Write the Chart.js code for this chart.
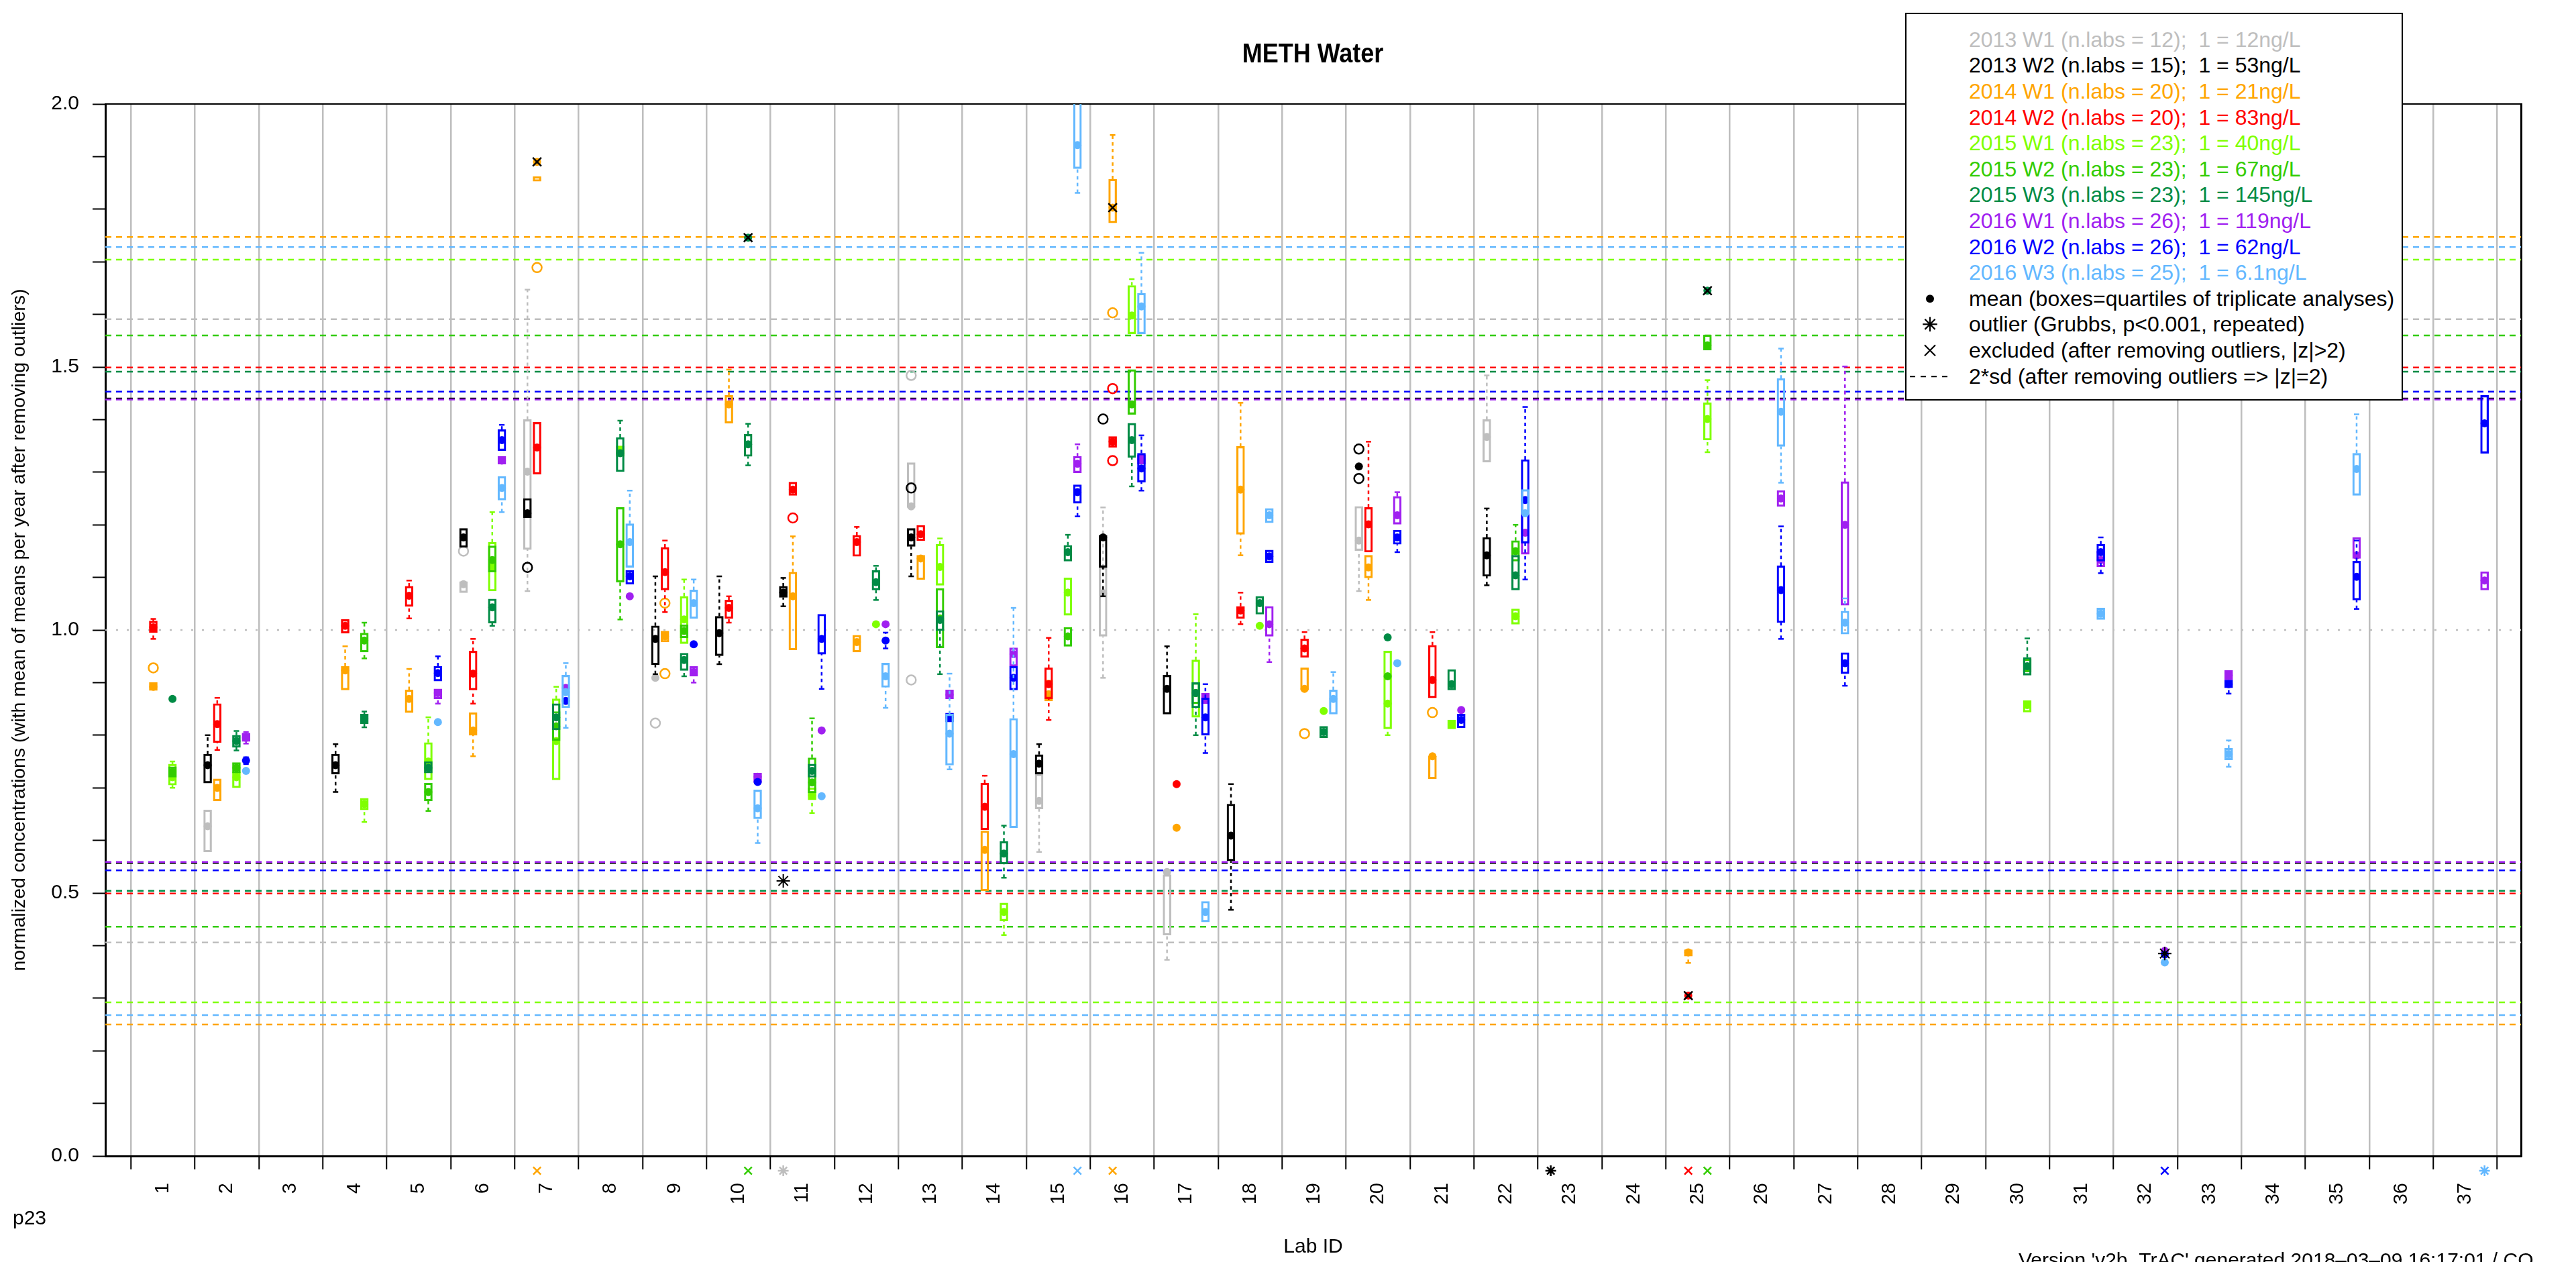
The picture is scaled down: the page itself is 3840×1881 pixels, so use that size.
<!DOCTYPE html>
<html>
<head>
<meta charset="utf-8">
<title>METH Water</title>
<script src="https://cdn.jsdelivr.net/npm/chart.js@4.4.1/dist/chart.umd.min.js"></script>
<style>
  html, body { margin: 0; padding: 0; background: #fff; }
  #wrap {
    position: relative; width: 3840px; height: 1881px; overflow: hidden;
    font-family: "Liberation Sans", Arial, Helvetica, sans-serif; color: #000;
  }
  #c { position: absolute; left: 0; top: 0; }
  #title {
    position: absolute; left: 1957px; top: 59px; font-size: 40px; line-height: 40px;
    font-weight: bold; white-space: nowrap; transform: translateX(-50%) scaleX(0.9);
  }
  #page { position: absolute; left: 19px; top: 1800px; font-size: 30px; line-height: 30px; }
  #version { position: absolute; left: 3009px; top: 1863px; font-size: 30px; line-height: 30px; white-space: nowrap; }
  #legend {
    position: absolute; left: 2840px; top: 19px; width: 742px; height: 578px;
    box-sizing: border-box; border: 2px solid #000; background: #fff;
  }
  #legend .row { position: absolute; left: 0; height: 38.6px; width: 100%; }
  #legend .txt {
    position: absolute; left: 93px; top: 0; font-size: 32px; line-height: 38.6px; white-space: pre;
  }
  #legend svg { position: absolute; top: 0; }
</style>
</head>
<body>
<div id="wrap">
  <canvas id="c" width="3840" height="1881"></canvas>
  <div id="title">METH Water</div>
  <div id="page">p23</div>
  <div id="version">Version 'v2b_TrAC' generated 2018–03–09 16:17:01 / CO</div>
  <div id="legend"></div>
</div>
<script>
// ---------------------------
// Data
// ---------------------------
const labIds = [1,2,3,4,5,6,7,8,9,10,11,12,13,14,15,16,17,18,19,20,21,22,23,24,25,26,27,28,29,30,31,32,33,34,35,36,37];

const seriesLabels = ['2013 W1','2013 W2','2014 W1','2014 W2','2015 W1','2015 W2','2015 W3','2016 W1','2016 W2','2016 W3'];
const seriesNLabs  = [12, 15, 20, 20, 23, 23, 23, 26, 26, 25];
const seriesUnits  = ['12ng/L','53ng/L','21ng/L','83ng/L','40ng/L','67ng/L','145ng/L','119ng/L','62ng/L','6.1ng/L'];

// 2*sd limits per series (after removing outliers)
const sdUpper = [1.591, 1.440, 1.747, 1.499, 1.704, 1.560, 1.491, 1.438, 1.453, 1.728];
const sdLower = [0.406, 0.557, 0.250, 0.499, 0.292, 0.436, 0.504, 0.559, 0.543, 0.268];

// rows: [lab, mean, q1, q3, whiskerLow, whiskerHigh]
const s2013w1 = [
  [2, 0.627, 0.578, 0.658],
  [6, 1.087, 1.071, 1.092],
  [7, 1.301, 1.153, 1.400, 1.074, 1.647],
  [9, 0.909],
  [13, 1.235, 1.233, 1.318],
  [15, 0.675, 0.660, 0.726, 0.578],
  [16, 1.070, 0.988, 1.119, 0.909, 1.233],
  [17, 0.540, 0.420, 0.535, 0.373],
  [20, 1.170, 1.151, 1.235, 1.074],
  [22, 1.367, 1.319, 1.400, null, 1.484],
];
const s2013w2 = [
  [2, 0.743, 0.709, 0.764, null, 0.800],
  [4, 0.743, 0.726, 0.764, 0.692, 0.783],
  [6, 1.176, 1.157, 1.193],
  [7, 1.222, 1.213, 1.250],
  [9, 0.983, 0.934, 1.008, 0.916, 1.102],
  [10, 0.994, 0.951, 1.026, 0.935, 1.102],
  [11, 1.071, 1.062, 1.083, 1.045, 1.099],
  [13, 1.176, 1.159, 1.193, 1.102],
  [15, 0.746, 0.726, 0.763, null, 0.783],
  [16, 1.176, 1.119, 1.180, 1.064],
  [17, 0.888, 0.840, 0.914, null, 0.969],
  [18, 0.609, 0.561, 0.669, 0.468, 0.707],
  [20, 1.311],
  [22, 1.142, 1.102, 1.176, 1.085, 1.231],
];
const s2014w1 = [
  [1, 0.892, 0.885, 0.900],
  [2, 0.700, 0.675, 0.717],
  [4, 0.923, 0.886, 0.931, null, 0.969],
  [5, 0.869, 0.843, 0.886, null, 0.926],
  [6, 0.809, 0.800, 0.843, 0.760],
  [7, null, 1.853, 1.862],
  [9, 0.988, 0.977, 0.998],
  [10, 1.429, 1.393, 1.446, null, 1.495],
  [11, 1.064, 0.962, 1.110, null, 1.178],
  [12, 0.977, 0.958, 0.990],
  [13, 1.136, 1.096, 1.142],
  [14, 0.582, 0.504, 0.618],
  [15, 0.878, 0.865, 0.905],
  [16, null, 1.774, 1.857, null, 1.941],
  [17, 0.624],
  [18, 1.267, 1.182, 1.349, 1.142, 1.432],
  [19, 0.888, 0.886, 0.928],
  [20, 1.119, 1.099, 1.142, 1.057],
  [21, 0.760, 0.717, 0.760],
  [25, 0.387, 0.380, 0.392, 0.367],
];
const s2014w2 = [
  [1, 1.005, 0.995, 1.017, 0.983, 1.021],
  [2, 0.821, 0.786, 0.860, 0.772, 0.871],
  [4, 1.008, 0.994, 1.020],
  [5, 1.065, 1.045, 1.083, 1.022, 1.094],
  [6, 0.917, 0.886, 0.960, 0.860, 0.983],
  [7, 1.347, 1.296, 1.395],
  [9, 1.110, 1.076, 1.157, 1.034, 1.170],
  [10, 1.042, 1.022, 1.057, 1.014, 1.064],
  [11, 1.267, 1.256, 1.281],
  [12, 1.167, 1.140, 1.180, null, 1.196],
  [13, 1.182, 1.170, 1.199],
  [14, 0.664, 0.620, 0.709, null, 0.723],
  [15, 0.897, 0.869, 0.928, 0.829, 0.985],
  [16, 1.358, 1.347, 1.368],
  [17, 0.707],
  [18, 1.037, 1.022, 1.045, 1.011, 1.071],
  [19, 0.965, 0.948, 0.983, null, 0.996],
  [20, 1.201, 1.148, 1.233, null, 1.358],
  [21, 0.905, 0.871, 0.971, null, 0.996],
];
const s2015w1 = [
  [1, 0.720, 0.705, 0.745, 0.700, 0.750],
  [2, 0.720, 0.700, 0.730],
  [4, 0.669, 0.658, 0.680, 0.635],
  [5, 0.750, 0.715, 0.786, null, 0.834],
  [6, 1.120, 1.074, 1.167, null, 1.224],
  [7, 0.789, 0.715, 0.869, null, 0.892],
  [8, 1.340, 1.330, 1.350],
  [9, 1.020, 0.974, 1.064, null, 1.096],
  [11, 0.686, 0.677, 0.700, 0.652],
  [12, 1.011],
  [13, 1.120, 1.085, 1.163, null, 1.174],
  [14, 0.464, 0.447, 0.481, 0.420],
  [15, 1.071, 1.028, 1.099],
  [16, 1.598, 1.563, 1.655, null, 1.667],
  [17, 0.880, 0.834, 0.943, null, 1.030],
  [18, 1.008],
  [19, 0.846],
  [20, 0.860, 0.812, 0.960, 0.800],
  [21, 0.820, 0.812, 0.829],
  [22, 1.026, 1.011, 1.040],
  [25, 1.401, 1.361, 1.432, 1.338, 1.475],
  [30, 0.857, 0.844, 0.866],
];
const s2015w2 = [
  [1, 0.730, 0.720, 0.740],
  [2, 0.738, 0.728, 0.748],
  [4, 0.980, 0.958, 0.994, 0.946, 1.014],
  [5, 0.692, 0.675, 0.709, 0.656],
  [6, 1.133, 1.110, 1.160],
  [7, 0.817, 0.790, 0.845],
  [8, 1.163, 1.091, 1.233, 1.020],
  [9, 0.998, 0.985, 1.010],
  [11, 0.710, 0.690, 0.757, null, 0.832],
  [13, 1.022, 0.966, 1.079],
  [15, 0.988, 0.969, 1.005],
  [16, 1.429, 1.410, 1.495],
  [17, 0.880, 0.860, 0.900],
  [20, 0.912],
  [22, 1.150, 1.131, 1.170, null, 1.200],
  [25, 1.541, 1.532, 1.561],
  [30, 0.930, 0.920, 0.945],
];
const s2015w3 = [
  [1, 0.869],
  [2, 0.789, 0.777, 0.800, 0.771, 0.808],
  [4, 0.831, 0.822, 0.840, 0.815, 0.845],
  [5, 0.738, 0.728, 0.750],
  [6, 1.043, 1.013, 1.059, 1.008],
  [7, 0.834, 0.810, 0.860],
  [8, 1.336, 1.301, 1.366, null, 1.398],
  [9, 0.943, 0.923, 0.956, 0.912],
  [10, 1.353, 1.330, 1.372, 1.313, 1.392],
  [11, 0.732, 0.720, 0.745],
  [12, 1.091, 1.076, 1.113, 1.057, 1.122],
  [13, 1.019, 0.999, 1.037, 0.916],
  [14, 0.575, 0.555, 0.598, 0.529, 0.628],
  [15, 1.148, 1.131, 1.161, null, 1.181],
  [16, 1.361, 1.328, 1.393, 1.273],
  [17, 0.880, 0.852, 0.900, 0.800],
  [18, 1.051, 1.030, 1.064],
  [19, 0.806, 0.795, 0.817],
  [20, 0.986],
  [21, 0.897, 0.886, 0.925],
  [22, 1.104, 1.076, 1.142],
  [30, 0.931, 0.914, 0.948, null, 0.984],
];
const s2016w1 = [
  [2, 0.795, 0.788, 0.804, 0.784, 0.806],
  [5, 0.880, 0.869, 0.888, 0.860],
  [6, 1.322, 1.315, 1.330],
  [7, 0.890],
  [8, 1.064],
  [9, 0.920, 0.912, 0.931, 0.900],
  [10, 0.721, 0.710, 0.728],
  [11, 0.809],
  [12, 1.011],
  [13, 0.877, 0.869, 0.886],
  [14, 0.954, 0.931, 0.966],
  [15, 1.316, 1.299, 1.330, null, 1.353],
  [16, 1.324, 1.315, 1.333],
  [17, 0.870, 0.860, 0.880],
  [18, 1.011, 0.988, 1.045, 0.939],
  [20, 1.218, 1.201, 1.254, null, 1.262],
  [21, 0.848],
  [22, 1.185, 1.144, 1.222],
  [26, 1.250, 1.235, 1.265],
  [27, 1.200, 1.047, 1.282, null, 1.501],
  [31, 1.133, 1.120, 1.150],
  [32, 0.390],
  [33, 0.914, 0.905, 0.923],
  [35, 1.142, 1.136, 1.176],
  [37, 1.094, 1.076, 1.111],
];
const s2016w2 = [
  [2, 0.752, null, null, 0.745, 0.758],
  [5, 0.918, 0.903, 0.931, null, 0.950],
  [6, 1.361, 1.341, 1.381, null, 1.390],
  [7, 0.865],
  [8, 1.102, 1.087, 1.113],
  [9, 0.973],
  [10, 0.711],
  [11, 0.983, 0.954, 1.030, 0.888],
  [12, 0.980, null, null, 0.965, 0.995],
  [13, 0.834, 0.825, 0.842],
  [14, 0.909, 0.886, 0.931],
  [15, 1.262, 1.241, 1.276, 1.216],
  [16, 1.307, 1.281, 1.336, 1.265, 1.370],
  [17, 0.834, 0.800, 0.871, 0.766, 0.897],
  [18, 1.140, 1.128, 1.152],
  [20, 1.176, 1.163, 1.190, 1.148],
  [21, 0.829, 0.814, 0.840],
  [22, 1.247, 1.165, 1.324, 1.096, 1.424],
  [26, 1.076, 1.014, 1.122, 0.983, 1.197],
  [27, 0.937, 0.917, 0.957, 0.894],
  [31, 1.148, 1.131, 1.163, 1.108, 1.176],
  [32, 0.383],
  [33, 0.897, 0.890, 0.905, 0.879],
  [35, 1.101, 1.057, 1.131, 1.040, 1.170],
  [37, 1.393, 1.336, 1.446],
];
const s2016w3 = [
  [2, 0.732],
  [5, 0.825],
  [6, 1.270, 1.247, 1.292, 1.224],
  [7, 0.882, 0.852, 0.914, 0.814, 0.937],
  [8, 1.167, 1.119, 1.202, null, 1.265],
  [9, 1.051, 1.022, 1.076, null, 1.096],
  [10, 0.661, 0.641, 0.696, 0.595],
  [11, 0.684],
  [12, 0.912, 0.891, 0.937, 0.852],
  [13, 0.803, 0.743, 0.840, 0.735, 0.917],
  [14, 0.764, 0.624, 0.832, null, 1.042],
  [15, 1.922, 1.877, 2.050, 1.831],
  [16, 1.615, 1.563, 1.640, null, 1.717],
  [17, 0.464, 0.445, 0.484],
  [18, 1.218, 1.204, 1.231],
  [19, 0.869, 0.840, 0.886, null, 0.920],
  [20, 0.937],
  [22, 1.222, 1.220, 1.267],
  [26, 1.415, 1.349, 1.478, 1.280, 1.535],
  [27, 1.014, 0.992, 1.036, null, 1.060],
  [31, 1.031, 1.020, 1.042],
  [32, 0.368],
  [33, 0.764, 0.753, 0.775, 0.740, 0.790],
  [35, 1.306, 1.256, 1.336, null, 1.410],
];

// single replicates shown as open circles: [lab, series, value]
const openPoints = [
  [1, 2, 0.928], [6, 0, 1.150], [7, 2, 1.689], [7, 1, 1.119], [9, 0, 0.823], [9, 2, 1.051],
  [9, 2, 0.917], [11, 3, 1.213], [13, 0, 1.484], [13, 0, 0.905], [13, 1, 1.270], [16, 1, 1.401],
  [16, 2, 1.603], [16, 3, 1.459], [16, 3, 1.322], [19, 2, 0.803], [20, 1, 1.344], [20, 1, 1.288],
  [21, 2, 0.843],
];
// excluded lab means (|z|>2): [lab, series, value]
const excludedPoints = [[7, 2, 1.890], [10, 6, 1.746], [16, 2, 1.803], [25, 6, 1.645], [25, 3, 0.305]];
// Grubbs outliers: [lab, series, value]
const grubbsPoints = [[11, 1, 0.523], [32, 8, 0.385]];
// values off the scale, marked under the axis: [lab, series, kind]
const offscalePoints = [
  [7, 2, 'x'], [10, 5, 'x'], [11, 0, '*'], [15, 9, 'x'], [16, 2, 'x'],
  [23, 1, '*'], [25, 3, 'x'], [25, 5, 'x'], [32, 8, 'x'], [37, 9, '*'],
];

const yTitle = 'normalized concentrations (with mean of means per year after removing outliers)';

// ---------------------------
// Styles / layout
// ---------------------------
const COLORS = ['#BEBEBE','#000000','#FFA500','#FF0000','#7FFF00','#33CC00','#008B45','#A020F0','#0000FF','#63B8FF'];
const OFFSET = [-0.3, -0.3, -0.15, -0.15, 0.15, 0.15, 0.15, 0.3, 0.3, 0.3];
const XMIN = 0.1, XMAX = 37.87;
const OFFSCALE_Y = -0.028;
const FONT = '"Liberation Sans", Arial, Helvetica, sans-serif';

const seriesRows = [s2013w1, s2013w2, s2014w1, s2014w2, s2015w1, s2015w2, s2015w3, s2016w1, s2016w2, s2016w3];
const NONE = 'rgba(0,0,0,0)';

// ---------------------------
// Datasets
// ---------------------------
const datasets = [];

datasets.push({
  type: 'line', data: [{x: XMIN, y: 1}, {x: XMAX, y: 1}],
  borderColor: '#BEBEBE', borderWidth: 2.5, borderDash: [3, 13], pointRadius: 0, order: 300,
});

seriesRows.forEach((_, s) => {
  [sdUpper[s], sdLower[s]].forEach(v => {
    datasets.push({
      type: 'line', data: [{x: XMIN, y: v}, {x: XMAX, y: v}],
      borderColor: COLORS[s], borderWidth: 2.5, borderDash: [9, 7], pointRadius: 0, order: 290 - s,
    });
  });
});

seriesRows.forEach((rows, s) => {
  const c = COLORS[s], off = OFFSET[s];
  const whisk = [], caps = [], boxes = [], means = [];
  rows.forEach(([lab, mean, q1, q3, lo, hi]) => {
    const x = lab + off;
    const bLo = q1 != null ? q1 : mean;
    const bHi = q3 != null ? q3 : mean;
    if (lo != null) { whisk.push({x, y: lo}, {x, y: bLo}, {x, y: null}); caps.push({x, y: lo}); }
    if (hi != null) { whisk.push({x, y: bHi}, {x, y: hi}, {x, y: null}); caps.push({x, y: hi}); }
    if (q1 != null) boxes.push({x, y: [q1, q3]});
    if (mean != null) means.push({x, y: mean});
  });
  const opens = openPoints.filter(p => p[1] === s).map(p => ({x: p[0] + off, y: p[2]}));
  const base = 200 - s * 10;

  datasets.push({
    type: 'line', data: whisk, borderColor: c, borderWidth: 2.5, borderDash: [5, 5],
    pointRadius: 0, spanGaps: false, order: base,
  });
  datasets.push({
    type: 'line', data: caps, showLine: false, pointStyle: 'line', pointRadius: 4,
    pointBorderColor: c, pointBorderWidth: 2.5, order: base - 1,
  });
  datasets.push({
    type: 'bar', data: boxes, grouped: false, barThickness: 12, borderColor: c,
    backgroundColor: NONE, borderWidth: 2.5, borderSkipped: false, order: base - 2,
  });
  datasets.push({
    type: 'line', data: opens, showLine: false, pointStyle: 'circle', pointRadius: 7,
    pointBackgroundColor: NONE, pointBorderColor: c, pointBorderWidth: 2.5, order: base - 3,
  });
  datasets.push({
    type: 'line', data: means, showLine: false, pointStyle: 'circle', pointRadius: 6,
    pointBackgroundColor: c, pointBorderColor: c, pointBorderWidth: 0, order: base - 4,
  });
});

// excluded: coloured mean with black cross
datasets.push({
  type: 'line', showLine: false, order: 5,
  data: excludedPoints.map(p => ({x: p[0] + OFFSET[p[1]], y: p[2]})),
  pointStyle: 'circle', pointRadius: 6, pointBorderWidth: 0,
  pointBackgroundColor: excludedPoints.map(p => COLORS[p[1]]),
});
datasets.push({
  type: 'line', showLine: false, order: 4,
  data: excludedPoints.map(p => ({x: p[0] + OFFSET[p[1]], y: p[2]})),
  pointStyle: 'crossRot', pointRadius: 9, pointBorderColor: '#000', pointBorderWidth: 2.5,
});
datasets.push({
  type: 'line', showLine: false, order: 3,
  data: grubbsPoints.map(p => ({x: p[0] + OFFSET[p[1]], y: p[2]})),
  pointStyle: 'star', pointRadius: 10, pointBorderColor: '#000', pointBorderWidth: 2,
});
datasets.push({
  type: 'line', showLine: false, order: 2, clip: false,
  data: offscalePoints.map(p => ({x: p[0] + OFFSET[p[1]], y: OFFSCALE_Y})),
  pointStyle: offscalePoints.map(p => p[2] === '*' ? 'star' : 'crossRot'),
  pointRadius: 8, pointHoverRadius: 40, pointBorderWidth: 2.5,
  pointBorderColor: offscalePoints.map(p => COLORS[p[1]]),
});

// ---------------------------
// Chart
// ---------------------------
Chart.defaults.font.family = FONT;
Chart.defaults.color = '#000';

const xTicks = [];
labIds.forEach(l => { xTicks.push(l - 0.5, l); });
xTicks.push(labIds[labIds.length - 1] + 0.5);
const isBoundary = v => !Number.isInteger(v);

new Chart(document.getElementById('c').getContext('2d'), {
  type: 'bar',
  data: { datasets },
  options: {
    responsive: false,
    animation: false,
    events: [],
    layout: { padding: { top: 155, right: 82, left: 0, bottom: 0 } },
    plugins: { legend: { display: false }, tooltip: { enabled: false }, title: { display: false } },
    scales: {
      x: {
        type: 'linear', position: 'bottom', min: XMIN, max: XMAX, offset: false,
        afterBuildTicks: s => { s.ticks = xTicks.map(v => ({ value: v })); },
        afterFit: s => { s.height = 158; },
        ticks: {
          autoSkip: false, minRotation: 90, maxRotation: 90, padding: 20, color: '#000',
          font: { size: 29 },
          callback: v => isBoundary(v) ? '' : String(v),
        },
        grid: {
          offset: false, drawTicks: true, tickLength: 20, lineWidth: 2.5, tickWidth: 2,
          color: c => (c.tick && isBoundary(c.tick.value)) ? '#BEBEBE' : NONE,
          tickColor: c => (c.tick && isBoundary(c.tick.value)) ? '#000' : NONE,
        },
        border: { display: true, color: '#000', width: 3 },
        title: { display: true, text: 'Lab ID', color: '#000', font: { size: 30 }, padding: { top: 0, bottom: 4 } },
      },
      y: {
        type: 'linear', position: 'left', min: 0, max: 2,
        afterFit: s => { s.width = 157; },
        ticks: {
          stepSize: 0.1, autoSkip: false, padding: 20, color: '#000', font: { size: 30 },
          callback: v => { const r = Math.round(v * 10); return r % 5 === 0 ? (r / 10).toFixed(1) : ''; },
        },
        grid: { drawOnChartArea: false, drawTicks: true, tickLength: 19, tickColor: '#000', tickWidth: 2 },
        border: { display: true, color: '#000', width: 3 },
        title: { display: true, text: yTitle, color: '#000', font: { size: 28.5 }, padding: { top: 12, bottom: 0 } },
      },
      xTop: {
        type: 'linear', position: 'top', min: 0, max: 1, display: true,
        afterFit: s => { s.height = 0; },
        ticks: { display: false }, grid: { display: false, drawTicks: false },
        border: { display: true, color: '#000', width: 2 },
      },
      yRight: {
        type: 'linear', position: 'right', min: 0, max: 2, display: true,
        afterFit: s => { s.width = 0; },
        ticks: { display: false }, grid: { display: false, drawTicks: false },
        border: { display: true, color: '#000', width: 3 },
      },
    },
  },
});

// ---------------------------
// Legend (HTML box)
// ---------------------------
const legend = document.getElementById('legend');
const rowTop = i => 18.7 + i * 38.6;
const symbols = [
  '<svg width="70" height="38.6" style="left:0"><circle cx="35" cy="19.3" r="6" fill="#000"/></svg>',
  '<svg width="70" height="38.6" style="left:0"><g stroke="#000" stroke-width="2.2">' +
    '<line x1="35" y1="8.5" x2="35" y2="30.1"/><line x1="24.2" y1="19.3" x2="45.8" y2="19.3"/>' +
    '<line x1="27.4" y1="11.7" x2="42.6" y2="26.9"/><line x1="27.4" y1="26.9" x2="42.6" y2="11.7"/></g></svg>',
  '<svg width="70" height="38.6" style="left:0"><g stroke="#000" stroke-width="2.2">' +
    '<line x1="27" y1="11.3" x2="43" y2="27.3"/><line x1="27" y1="27.3" x2="43" y2="11.3"/></g></svg>',
  '<svg width="70" height="38.6" style="left:0"><line x1="5" y1="19.3" x2="64" y2="19.3" stroke="#000" stroke-width="2" stroke-dasharray="8 8"/></svg>',
];
const extraLabels = [
  'mean (boxes=quartiles of triplicate analyses)',
  'outlier (Grubbs, p<0.001, repeated)',
  'excluded (after removing outliers, |z|>2)',
  '2*sd (after removing outliers => |z|=2)',
];
seriesLabels.forEach((lbl, i) => {
  const row = document.createElement('div');
  row.className = 'row';
  row.style.top = rowTop(i) + 'px';
  const t = document.createElement('span');
  t.className = 'txt';
  t.style.color = COLORS[i];
  t.textContent = `${lbl} (n.labs = ${seriesNLabs[i]});  1 = ${seriesUnits[i]}`;
  row.appendChild(t);
  legend.appendChild(row);
});
extraLabels.forEach((lbl, j) => {
  const row = document.createElement('div');
  row.className = 'row';
  row.style.top = rowTop(seriesLabels.length + j) + 'px';
  row.innerHTML = symbols[j];
  const t = document.createElement('span');
  t.className = 'txt';
  t.textContent = lbl;
  row.appendChild(t);
  legend.appendChild(row);
});
</script>
</body>
</html>
